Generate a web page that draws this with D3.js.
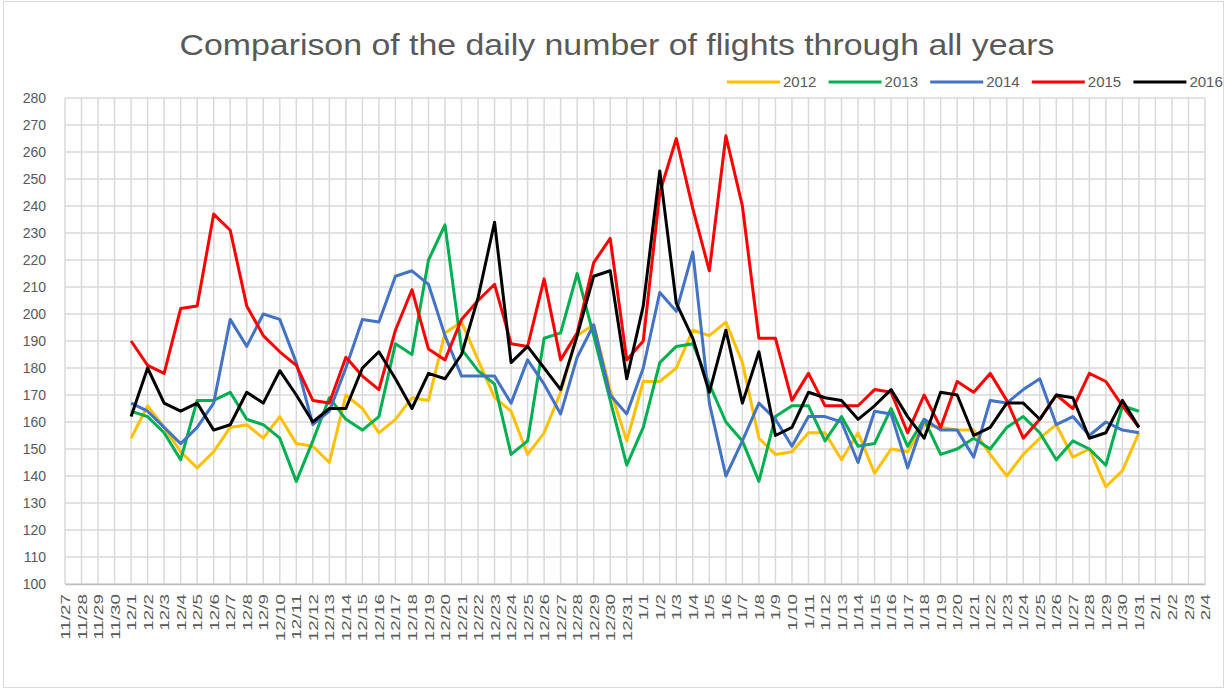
<!DOCTYPE html>
<html>
<head>
<meta charset="utf-8">
<script src="https://cdnjs.cloudflare.com/ajax/libs/d3/7.8.5/d3.min.js"></script>
<style>
  body { margin: 0; background: #fff; }
  text { font-family: "Liberation Sans", Arial, sans-serif; fill: #595959; }
</style>
</head>
<body>
<div id="chart"></div>
<script>
var dates = ["11/27","11/28","11/29","11/30",
  "12/1","12/2","12/3","12/4","12/5","12/6","12/7","12/8","12/9","12/10","12/11","12/12","12/13","12/14","12/15","12/16",
  "12/17","12/18","12/19","12/20","12/21","12/22","12/23","12/24","12/25","12/26","12/27","12/28","12/29","12/30","12/31",
  "1/1","1/2","1/3","1/4","1/5","1/6","1/7","1/8","1/9","1/10","1/11","1/12","1/13","1/14","1/15","1/16",
  "1/17","1/18","1/19","1/20","1/21","1/22","1/23","1/24","1/25","1/26","1/27","1/28","1/29","1/30","1/31",
  "2/1","2/2","2/3","2/4"];

var years = ["2012", "2013", "2014", "2015", "2016"];
var colors = ["#ffc000", "#00b050", "#4472c4", "#ff0000", "#000000"];
var yTicks = [100,110,120,130,140,150,160,170,180,190,200,210,220,230,240,250,260,270,280];

// values from 12/1 to 1/31
var v2012 = [154,166,158,149,143,149,158,159,154,162,152,151,145,170,165,156,161,169,168,193,197,183,169,164,148,156,171,192,196,172,153,
             175,175,180,194,192,197,182,154,148,149,156,156,146,156,141,150,149,159,158,157,157,148,140,148,154,159,147,150,136,142,156];
var v2013 = [164,162,156,146,168,168,171,161,159,154,138,153,169,161,157,162,189,185,220,233,187,179,174,148,153,191,193,215,192,168,144,
             158,182,188,189,174,160,153,138,162,166,166,153,162,151,152,165,151,161,148,150,154,150,158,162,156,146,153,150,144,166,164];
var v2014 = [167,164,158,152,158,167,198,188,200,198,182,159,164,180,198,197,214,216,211,192,177,177,177,167,183,174,163,184,196,170,163,
             180,208,201,223,167,140,153,167,161,151,162,162,160,145,164,163,143,161,157,157,147,168,167,172,176,159,162,155,160,157,156];
var v2015 = [190,181,178,202,203,237,231,203,192,186,181,168,167,184,177,172,194,209,187,183,198,205,211,189,188,213,183,193,219,228,183,
             190,245,265,239,216,266,240,191,191,168,178,166,166,166,172,171,156,170,158,175,171,178,168,154,161,170,165,178,175,166,158];
var v2016 = [162,180,167,164,167,157,159,171,167,179,170,160,165,165,180,186,176,165,178,176,185,206,234,182,188,180,172,192,214,216,176,
             203,253,204,191,171,194,167,186,155,158,171,169,168,161,166,172,162,154,171,170,155,158,167,167,161,170,169,154,156,168,158];

var seriesValues = [v2012, v2013, v2014, v2015, v2016];
var dataDates = dates.slice(4, 66);

var W = 1231, H = 691;
var margin = {top: 98, right: 26, bottom: 107, left: 65},
    width = W - margin.left - margin.right,
    height = H - margin.top - margin.bottom;

var svg = d3.select("#chart")
  .append("svg")
    .attr("width", W)
    .attr("height", H);

// chart frame
svg.append("rect")
  .attr("x", 3.5).attr("y", 1.5)
  .attr("width", 1220).attr("height", 686)
  .attr("fill", "none")
  .attr("stroke", "#d9d9d9");

svg.append("text")
  .attr("x", 617).attr("y", 55)
  .attr("text-anchor", "middle")
  .attr("textLength", 875)
  .attr("lengthAdjust", "spacingAndGlyphs")
  .style("font-size", "29px")
  .text("Comparison of the daily number of flights through all years");

var g = svg.append("g")
  .attr("transform", "translate(" + margin.left + "," + margin.top + ")");

var x = d3.scalePoint()
  .domain(dates)
  .range([0, width]);

var y = d3.scaleLinear()
  .domain([100, 280])
  .range([height, 0]);

// gridlines
g.append("g")
  .selectAll("line")
  .data(yTicks)
  .enter().append("line")
    .attr("x1", 0).attr("x2", width)
    .attr("y1", function(d) { return y(d); })
    .attr("y2", function(d) { return y(d); })
    .attr("stroke", "#d9d9d9")
    .attr("stroke-width", 1.5);

g.append("g")
  .selectAll("line")
  .data(dates)
  .enter().append("line")
    .attr("x1", function(d) { return x(d); })
    .attr("x2", function(d) { return x(d); })
    .attr("y1", 0).attr("y2", height)
    .attr("stroke", "#d9d9d9")
    .attr("stroke-width", 1.5);

// axes
var yAxis = g.append("g")
  .call(d3.axisLeft(y).tickValues(yTicks).tickSize(0).tickPadding(19));
yAxis.select(".domain").remove();
yAxis.selectAll("text").style("font-size", "14px").attr("fill", "#595959");

var xAxis = g.append("g")
  .attr("transform", "translate(0," + height + ")")
  .call(d3.axisBottom(x).tickSize(0));
xAxis.select(".domain").attr("stroke", "#bfbfbf").attr("stroke-width", 1.5);
xAxis.selectAll("text")
  .style("font-size", "13px")
  .attr("fill", "#595959")
  .attr("text-anchor", "end")
  .attr("x", 0).attr("y", 0)
  .attr("dy", "0.35em")
  .attr("transform", "translate(0,10) rotate(-90) scale(1.45,1)");

// lines
var line = d3.line()
  .x(function(d) { return x(d.date); })
  .y(function(d) { return y(d.value); });

years.forEach(function(yr, k) {
  var data = seriesValues[k].map(function(v, i) { return {date: dataDates[i], value: v}; });
  g.append("path")
    .datum(data)
    .attr("fill", "none")
    .attr("stroke", colors[k])
    .attr("stroke-width", 3)
    .attr("stroke-linejoin", "round")
    .attr("d", line);
});

// legend
var legend = svg.append("g")
  .selectAll("g")
  .data(years)
  .enter().append("g")
    .attr("transform", function(d, i) { return "translate(" + (727 + i * 101.6) + ",82)"; });

legend.append("line")
  .attr("x1", 0).attr("x2", 53)
  .attr("stroke", function(d, i) { return colors[i]; })
  .attr("stroke-width", 3);

legend.append("text")
  .attr("x", 56)
  .attr("dy", "0.35em")
  .style("font-size", "15px")
  .text(function(d) { return d; });
</script>
</body>
</html>
